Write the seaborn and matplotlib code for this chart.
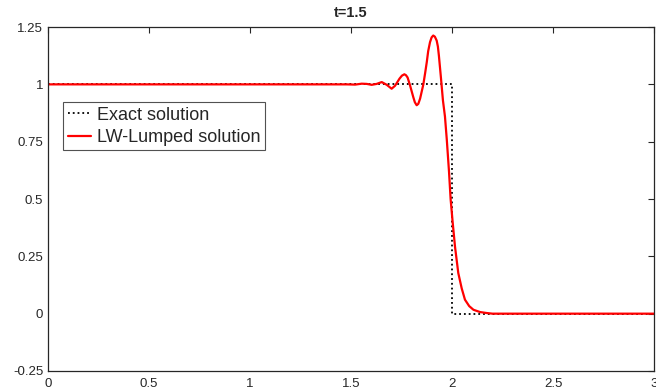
import matplotlib
matplotlib.use("Agg")
import matplotlib.pyplot as plt
import seaborn as sns
import pandas as pd

# exact solution (step moving to x=2)
exact_x = [0.0, 2.0, 2.0, 3.0]
exact_y = [1.0, 1.0, 0.0, 0.0]

# LW-Lumped solution
lw_x = [0.0, 1.40, 1.48, 1.52, 1.553, 1.578, 1.602, 1.627, 1.652, 1.677, 1.701,
        1.718, 1.740, 1.752, 1.764, 1.772, 1.780, 1.792, 1.808, 1.816, 1.825,
        1.833, 1.842, 1.858, 1.867, 1.875, 1.882, 1.891, 1.899, 1.907, 1.915,
        1.924, 1.930, 1.935, 1.945, 1.955, 1.965, 1.974, 1.985, 1.993,
        2.003, 2.015, 2.031, 2.048, 2.064, 2.085, 2.106, 2.139, 2.17, 2.2, 3.0]
lw_y = [1.0, 1.0, 1.0, 0.999, 1.003, 1.002, 0.998, 1.002, 1.010, 0.998, 0.981,
        0.994, 1.025, 1.038, 1.044, 1.040, 1.030, 0.996, 0.945, 0.922, 0.909,
        0.915, 0.938, 1.0, 1.050, 1.097, 1.145, 1.184, 1.205, 1.213, 1.208,
        1.191, 1.165, 1.125, 1.030, 0.930, 0.860, 0.760, 0.620, 0.500,
        0.400, 0.290, 0.177, 0.110, 0.061, 0.033, 0.017, 0.007, 0.003, 0.0, 0.0]

sns.set_style("white")
plt.rcParams['font.family'] = ['Liberation Sans', 'DejaVu Sans']
plt.rcParams['xtick.direction'] = 'in'
plt.rcParams['ytick.direction'] = 'in'

exact_df = pd.DataFrame({'x': exact_x, 'y': exact_y})
lw_df = pd.DataFrame({'x': lw_x, 'y': lw_y})

fig, ax = plt.subplots(figsize=(6.56, 3.92), dpi=100)
fig.subplots_adjust(left=0.0732, right=0.997, top=0.931, bottom=0.0536)

sns.lineplot(data=exact_df, x='x', y='y', ax=ax, color='black', linestyle=':',
             linewidth=1.3, sort=False, estimator=None, label='Exact solution')
sns.lineplot(data=lw_df, x='x', y='y', ax=ax, color='#ff0000', linewidth=1.6,
             sort=False, estimator=None, label='LW-Lumped solution')

ax.set_xlim(0, 3)
ax.set_ylim(-0.25, 1.25)
ax.set_xticks([0, 0.5, 1, 1.5, 2, 2.5, 3])
ax.set_xticklabels(['0', '0.5', '1', '1.5', '2', '2.5', '3'])
ax.set_yticks([-0.25, 0, 0.25, 0.5, 0.75, 1, 1.25])
ax.set_yticklabels(['-0.25', '0', '0.25', '0.5', '0.75', '1', '1.25'])
ax.tick_params(axis='both', labelsize=9.5, colors='#262626', length=4, width=0.8,
               top=True, right=True)
ax.tick_params(axis='x', pad=5)
ax.set_xlabel('')
ax.set_ylabel('')
for s in ax.spines.values():
    s.set_visible(True)
    s.set_color('#262626')
    s.set_linewidth(0.9)

ax.set_title('t=1.5', fontsize=10.5, fontweight='bold', pad=7)

leg = ax.legend(loc='upper left', bbox_to_anchor=(0.025, 0.782), borderaxespad=0,
                fontsize=13, frameon=True, fancybox=False, handlelength=1.3,
                handletextpad=0.3, borderpad=0.25, labelspacing=0.3)
leg.get_frame().set_edgecolor('#262626')
leg.get_frame().set_linewidth(0.8)

plt.savefig('out.png', dpi=100)
